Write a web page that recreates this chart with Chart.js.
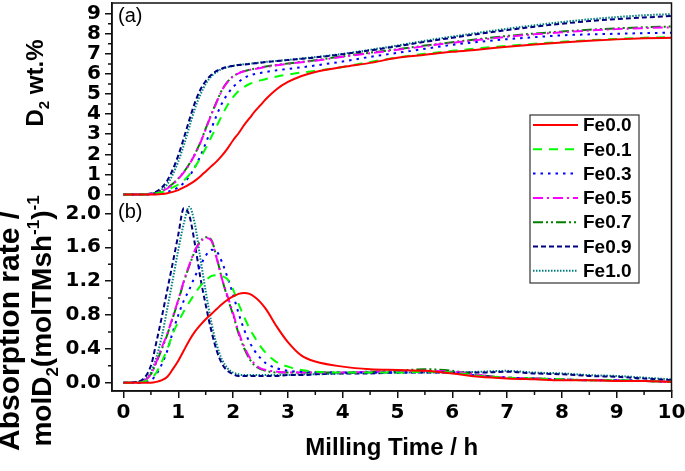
<!DOCTYPE html>
<html>
<head>
<meta charset="utf-8">
<script src="https://cdn.jsdelivr.net/npm/chart.js@4.4.1/dist/chart.umd.min.js"></script>
<style>
  html, body { margin: 0; padding: 0; background: #fff; }
</style>
</head>
<body>
<canvas id="chart" width="685" height="471"></canvas>
<script>
// milling time (h) shared by every curve
const hours = [0, 0.25, 0.5, 0.6, 0.7, 0.8, 0.9, 1.0, 1.1, 1.2, 1.3, 1.4, 1.5, 1.6, 1.7, 1.8, 1.9, 2.0, 2.1, 2.2, 2.3, 2.4, 2.5, 2.6, 2.8, 3.0, 3.25, 3.5, 4, 4.5, 5, 5.5, 6, 6.5, 7, 7.5, 8, 8.5, 9, 9.5, 10];

const seriesNames = ['Fe0.0', 'Fe0.1', 'Fe0.3', 'Fe0.5', 'Fe0.7', 'Fe0.9', 'Fe1.0'];

// (a) D2 wt.%
const wt00 = [0, 0, 0, 0, 0.02, 0.06, 0.13, 0.22, 0.35, 0.5, 0.68, 0.9, 1.15, 1.4, 1.65, 1.95, 2.3, 2.7, 3.05, 3.45, 3.8, 4.15, 4.45, 4.75, 5.25, 5.6, 5.9, 6.1, 6.35, 6.55, 6.8, 6.95, 7.1, 7.22, 7.35, 7.47, 7.57, 7.65, 7.72, 7.77, 7.8];
const wt01 = [0, 0, 0.02, 0.06, 0.12, 0.22, 0.35, 0.5, 0.7, 0.98, 1.35, 1.8, 2.3, 2.85, 3.4, 3.95, 4.45, 4.85, 5.15, 5.35, 5.5, 5.6, 5.68, 5.75, 5.87, 5.97, 6.07, 6.15, 6.35, 6.6, 6.82, 7.0, 7.15, 7.28, 7.4, 7.5, 7.6, 7.68, 7.74, 7.8, 7.83];
const wt03 = [0, 0, 0.01, 0.03, 0.07, 0.13, 0.22, 0.35, 0.58, 0.9, 1.35, 1.9, 2.55, 3.25, 3.95, 4.55, 5.0, 5.35, 5.6, 5.8, 5.92, 6.0, 6.05, 6.1, 6.18, 6.25, 6.33, 6.42, 6.62, 6.85, 7.05, 7.25, 7.45, 7.6, 7.73, 7.83, 7.92, 7.97, 8.0, 8.03, 8.05];
const wt05 = [0, 0, 0.03, 0.08, 0.17, 0.3, 0.5, 0.78, 1.1, 1.5, 1.98, 2.55, 3.25, 3.95, 4.6, 5.2, 5.6, 5.87, 6.03, 6.13, 6.2, 6.25, 6.3, 6.35, 6.43, 6.5, 6.58, 6.66, 6.85, 7.03, 7.2, 7.38, 7.55, 7.7, 7.85, 7.97, 8.07, 8.16, 8.23, 8.28, 8.32];
const wt07 = [0, 0, 0.03, 0.09, 0.19, 0.33, 0.53, 0.8, 1.12, 1.52, 2.0, 2.58, 3.28, 3.98, 4.62, 5.22, 5.62, 5.88, 6.04, 6.14, 6.21, 6.27, 6.32, 6.37, 6.45, 6.52, 6.6, 6.68, 6.88, 7.06, 7.23, 7.41, 7.58, 7.74, 7.89, 8.01, 8.11, 8.2, 8.27, 8.32, 8.36];
const wt09 = [0, 0, 0.05, 0.15, 0.35, 0.7, 1.25, 1.95, 2.8, 3.7, 4.55, 5.2, 5.65, 5.95, 6.15, 6.27, 6.35, 6.4, 6.44, 6.47, 6.5, 6.53, 6.56, 6.59, 6.64, 6.69, 6.75, 6.82, 6.98, 7.17, 7.38, 7.6, 7.8, 8.0, 8.18, 8.35, 8.5, 8.63, 8.73, 8.81, 8.88];
const wt10 = [0, 0, 0.03, 0.1, 0.25, 0.52, 1.0, 1.65, 2.45, 3.35, 4.25, 4.95, 5.5, 5.87, 6.1, 6.25, 6.34, 6.4, 6.45, 6.48, 6.51, 6.54, 6.57, 6.6, 6.65, 6.7, 6.77, 6.84, 7.0, 7.2, 7.42, 7.65, 7.86, 8.06, 8.25, 8.42, 8.58, 8.72, 8.83, 8.92, 8.98];

// (b) absorption rate
const rate00 = [0, 0, 0, 0.01, 0.03, 0.07, 0.16, 0.26, 0.38, 0.5, 0.6, 0.68, 0.75, 0.81, 0.87, 0.93, 0.98, 1.02, 1.05, 1.06, 1.05, 1.01, 0.95, 0.87, 0.66, 0.48, 0.32, 0.25, 0.19, 0.16, 0.15, 0.14, 0.11, 0.07, 0.05, 0.04, 0.03, 0.03, 0.02, 0.02, 0.01];
const rate01 = [0, 0, 0.05, 0.12, 0.25, 0.4, 0.58, 0.72, 0.84, 0.95, 1.05, 1.14, 1.21, 1.26, 1.27, 1.26, 1.22, 1.1, 0.93, 0.78, 0.64, 0.53, 0.43, 0.35, 0.24, 0.19, 0.15, 0.13, 0.12, 0.12, 0.12, 0.13, 0.12, 0.08, 0.06, 0.05, 0.04, 0.03, 0.03, 0.02, 0.01];
const rate03 = [0, 0, 0.03, 0.1, 0.22, 0.38, 0.6, 0.8, 0.97, 1.1, 1.25, 1.38, 1.5, 1.57, 1.55, 1.42, 1.24, 1.04, 0.82, 0.63, 0.48, 0.37, 0.29, 0.23, 0.17, 0.14, 0.13, 0.12, 0.12, 0.12, 0.12, 0.13, 0.12, 0.08, 0.06, 0.05, 0.04, 0.03, 0.03, 0.02, 0.01];
const rate05 = [0, 0, 0.1, 0.25, 0.42, 0.58, 0.78, 0.98, 1.2, 1.39, 1.56, 1.66, 1.71, 1.68, 1.47, 1.22, 1.02, 0.82, 0.6, 0.43, 0.3, 0.22, 0.17, 0.15, 0.13, 0.12, 0.12, 0.12, 0.12, 0.13, 0.13, 0.14, 0.13, 0.09, 0.06, 0.05, 0.04, 0.03, 0.03, 0.02, 0.01];
const rate07 = [0, 0, 0.1, 0.24, 0.4, 0.57, 0.77, 0.97, 1.19, 1.38, 1.55, 1.67, 1.72, 1.69, 1.48, 1.22, 1.0, 0.8, 0.58, 0.41, 0.28, 0.2, 0.16, 0.14, 0.12, 0.12, 0.12, 0.12, 0.12, 0.13, 0.14, 0.16, 0.14, 0.09, 0.06, 0.05, 0.04, 0.03, 0.03, 0.02, 0.01];
const rate09 = [0, 0.01, 0.2, 0.48, 0.78, 1.1, 1.42, 1.75, 2.06, 1.98, 1.65, 1.25, 0.92, 0.62, 0.38, 0.22, 0.14, 0.1, 0.08, 0.08, 0.08, 0.08, 0.08, 0.08, 0.08, 0.09, 0.09, 0.1, 0.11, 0.11, 0.12, 0.12, 0.12, 0.12, 0.13, 0.11, 0.1, 0.08, 0.07, 0.05, 0.03];
const rate10 = [0, 0.01, 0.12, 0.3, 0.55, 0.88, 1.22, 1.57, 1.88, 2.08, 1.88, 1.48, 1.08, 0.72, 0.45, 0.27, 0.17, 0.12, 0.1, 0.09, 0.09, 0.09, 0.09, 0.09, 0.09, 0.09, 0.1, 0.1, 0.11, 0.12, 0.12, 0.12, 0.12, 0.13, 0.14, 0.12, 0.11, 0.09, 0.08, 0.06, 0.04];

const xTicks = [0, 1, 2, 3, 4, 5, 6, 7, 8, 9, 10];
const wtTicks = [0, 1, 2, 3, 4, 5, 6, 7, 8, 9];
const rateTicks = [0, 0.4, 0.8, 1.2, 1.6, 2.0];

const wtSeries = [wt00, wt01, wt03, wt05, wt07, wt09, wt10];
const rateSeries = [rate00, rate01, rate03, rate05, rate07, rate09, rate10];

const lineStyles = [
  { color: '#ff0000', dash: [] },
  { color: '#00ff00', dash: [9, 7] },
  { color: '#0000ff', dash: [2.5, 5] },
  { color: '#ff00ff', dash: [10, 4, 2, 4] },
  { color: '#008000', dash: [10, 3, 2, 3, 2, 3] },
  { color: '#000080', dash: [5, 3] },
  { color: '#008080', dash: [1.5, 1.5] }
];

const FONT = "'Liberation Sans', Arial, sans-serif";
const TICKFONT = "'DejaVu Sans', sans-serif";

function points(vals) {
  return hours.map((h, i) => ({ x: h, y: vals[i] }));
}

const datasets = [];
wtSeries.forEach((s, i) => datasets.push({
  label: seriesNames[i], data: points(s), yAxisID: 'yA',
  borderColor: lineStyles[i].color, borderDash: lineStyles[i].dash
}));
rateSeries.forEach((s, i) => datasets.push({
  label: seriesNames[i], data: points(s), yAxisID: 'yB',
  borderColor: lineStyles[i].color, borderDash: lineStyles[i].dash
}));

function fixTicks(values) {
  return function (scale) { scale.ticks = values.map(v => ({ value: v })); };
}

const axisGrid = { drawOnChartArea: false, drawTicks: true, tickLength: 7, color: '#111', lineWidth: 1.5 };
const axisBorder = { display: true, color: '#111', width: 1.5 };
const tickFont = { family: TICKFONT, size: 20, weight: 'bold' };

// minor ticks, frame, titles and legend
const extras = {
  id: 'extras',
  afterDraw(chart) {
    const ctx = chart.ctx;
    const a = chart.chartArea;
    const sx = chart.scales.x, sa = chart.scales.yA, sb = chart.scales.yB;
    ctx.save();
    ctx.strokeStyle = '#111';
    ctx.lineWidth = 1.5;
    ctx.strokeRect(a.left, a.top, a.right - a.left, a.bottom - a.top);

    // minor ticks halfway between labelled ones
    ctx.beginPath();
    for (let i = 0; i < xTicks.length - 1; i++) {
      const px = sx.getPixelForValue((xTicks[i] + xTicks[i + 1]) / 2);
      ctx.moveTo(px, a.bottom); ctx.lineTo(px, a.bottom + 4);
    }
    for (let i = 0; i < wtTicks.length - 1; i++) {
      const py = sa.getPixelForValue((wtTicks[i] + wtTicks[i + 1]) / 2);
      ctx.moveTo(a.left, py); ctx.lineTo(a.left - 4, py);
    }
    for (let i = 0; i < rateTicks.length - 1; i++) {
      const py = sb.getPixelForValue((rateTicks[i] + rateTicks[i + 1]) / 2);
      ctx.moveTo(a.left, py); ctx.lineTo(a.left - 4, py);
    }
    ctx.stroke();

    ctx.fillStyle = '#000';
    // panel tags
    ctx.font = '20px ' + FONT;
    ctx.textBaseline = 'middle';
    ctx.textAlign = 'left';
    ctx.fillText('(a)', a.left + 6, 16.5);
    ctx.fillText('(b)', a.left + 6, 212);

    // axis titles
    ctx.textBaseline = 'alphabetic';
    ctx.textAlign = 'center';
    ctx.font = 'bold 24px ' + FONT;
    ctx.fillText('Milling Time / h', (a.left + a.right) / 2, 455);

    rich(ctx, [['D', 0], ['2', -1], [' wt.%', 0]], 43, 83, 24);
    rich(ctx, [['Absorption rate /', 0]], 19, 331, 30);
    rich(ctx, [['molD', 0], ['2', -1], ['(molTMsh', 0], ['-1', 1], [')', 0], ['-1', 1]], 51, 321, 28);

    // legend
    const lx = 530, ly = 115, lw = 109, lh = 168;
    ctx.fillStyle = '#fff';
    ctx.fillRect(lx, ly, lw, lh);
    ctx.strokeStyle = '#333';
    ctx.lineWidth = 1.2;
    ctx.strokeRect(lx, ly, lw, lh);
    ctx.font = 'bold 19px ' + FONT;
    ctx.textAlign = 'left';
    ctx.textBaseline = 'middle';
    seriesNames.forEach((name, i) => {
      const y = ly + 10 + i * 24.3;
      ctx.strokeStyle = lineStyles[i].color;
      ctx.lineWidth = 2;
      ctx.setLineDash(lineStyles[i].dash);
      ctx.beginPath();
      ctx.moveTo(lx + 3, y); ctx.lineTo(lx + 48, y);
      ctx.stroke();
      ctx.setLineDash([]);
      ctx.fillStyle = '#000';
      ctx.fillText(name, lx + 53, y + 1);
    });
    ctx.restore();
  }
};

// rotated text with sub (-1) and super (1) scripts, centred on cy
function rich(ctx, parts, bx, cy, size) {
  const fontFor = m => 'bold ' + (m === 0 ? size : Math.round(size * 0.62)) + 'px ' + FONT;
  let total = 0;
  parts.forEach(p => { ctx.font = fontFor(p[1]); total += ctx.measureText(p[0]).width; });
  ctx.save();
  ctx.translate(bx, cy);
  ctx.rotate(-Math.PI / 2);
  ctx.textAlign = 'left';
  ctx.textBaseline = 'alphabetic';
  let x = -total / 2;
  parts.forEach(p => {
    ctx.font = fontFor(p[1]);
    const dy = p[1] === -1 ? size * 0.25 : (p[1] === 1 ? -size * 0.42 : 0);
    ctx.fillText(p[0], x, dy);
    x += ctx.measureText(p[0]).width;
  });
  ctx.restore();
}

new Chart(document.getElementById('chart'), {
  type: 'line',
  data: { datasets: datasets },
  options: {
    responsive: false,
    animation: false,
    devicePixelRatio: 1,
    layout: { padding: { left: 0, top: 3, right: 13.5, bottom: 0 } },
    elements: {
      point: { radius: 0 },
      line: { borderWidth: 2, tension: 0.4, cubicInterpolationMode: 'monotone', fill: false }
    },
    plugins: { legend: { display: false }, tooltip: { enabled: false } },
    scales: {
      x: {
        type: 'linear', position: 'bottom', min: -0.21, max: 10,
        afterBuildTicks: fixTicks(xTicks),
        afterFit(s) { s.height = 80; s.paddingLeft = 0; s.paddingRight = 0; },
        ticks: { font: tickFont, color: '#000', padding: 3, maxRotation: 0, autoSkip: false },
        grid: axisGrid, border: axisBorder
      },
      // the first axis of a stack goes to the bottom
      yB: {
        type: 'linear', position: 'left', stack: 'panels', stackWeight: 190.4,
        min: -0.098, max: 2.15,
        afterBuildTicks: fixTicks(rateTicks),
        afterFit(s) { s.width = 112; s.paddingTop = 0; s.paddingBottom = 0; },
        ticks: { font: tickFont, color: '#000', padding: 4, autoSkip: false, callback: v => v.toFixed(1) },
        grid: axisGrid, border: axisBorder
      },
      yA: {
        type: 'linear', position: 'left', stack: 'panels', stackWeight: 197.9,
        min: -0.31, max: 9.53,
        afterBuildTicks: fixTicks(wtTicks),
        afterFit(s) { s.width = 112; s.paddingTop = 0; s.paddingBottom = 0; },
        ticks: { font: tickFont, color: '#000', padding: 4, autoSkip: false, callback: v => String(v) },
        grid: axisGrid, border: axisBorder
      }
    }
  },
  plugins: [extras]
});
</script>
</body>
</html>
